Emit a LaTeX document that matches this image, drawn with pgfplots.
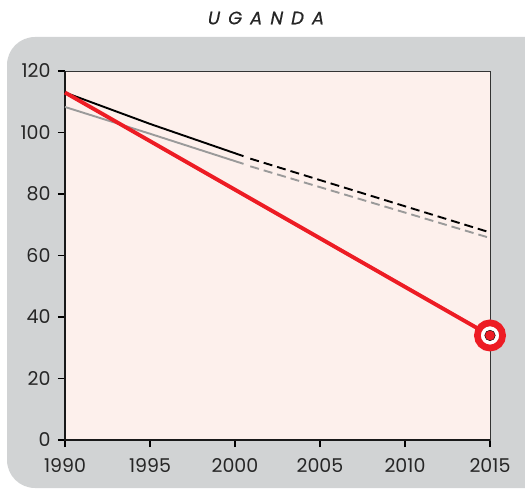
\documentclass[border=0pt]{standalone}
\usepackage{pgfplots}
\pgfplotsset{compat=1.18}
\usepackage{fontspec}
\setmainfont{Poppins}
\newfontfamily\titlefont[FakeBold=0.6, FakeSlant=0.2]{Poppins}
\definecolor{boxgray}{HTML}{D1D3D4}
\definecolor{plotbg}{HTML}{FDF0EC}
\definecolor{mdgred}{HTML}{ED1C24}
\definecolor{lgray}{HTML}{9A9A9A}
\begin{document}
\begin{tikzpicture}[x=1pt,y=1pt]
\useasboundingbox (0,0) rectangle (525,491);
\fill[boxgray, rounded corners=28pt] (7,3) rectangle (560,454);
\node[font=\fontsize{18}{20}\titlefont, text=black!85] at (265,473) {U\hspace{0.45em}G\hspace{0.45em}A\hspace{0.45em}N\hspace{0.45em}D\hspace{0.45em}A};
\begin{axis}[
  at={(65pt,51pt)}, anchor=origin,
  width=425pt, height=369pt, scale only axis,
  xmin=1990, xmax=2015, ymin=0, ymax=120,
  xtick={1990,1995,...,2015}, ytick={0,20,...,120},
  /pgf/number format/assume math mode=true,
  xticklabel style={/pgf/number format/1000 sep=, yshift=-8pt},
  yticklabel style={xshift=-4pt},
  tick label style={font=\fontsize{19}{21}\selectfont, text=black!85},
  axis background/.style={fill=plotbg},
  axis line style={draw=black!80, line width=0.8pt},
  tick align=outside, tick pos=left,
  major tick length=7pt,
  tick style={black, line width=1.2pt},
  clip=false,
]
\draw[black!90, line width=2pt] (axis cs:1990,120) -- (axis cs:1990,0) -- (axis cs:2015,0);
\addplot[black, line width=1.9pt] coordinates {(1990,113) (1995,102.8) (2000.5,92.3)};
\addplot[black, line width=1.9pt, dash pattern=on 9pt off 5pt] coordinates {(2000.9,91.5) (2015,67.5)};
\addplot[lgray, line width=1.9pt] coordinates {(1990,108.3) (1995,99.6) (2000.5,89.8)};
\addplot[lgray, line width=1.9pt, dash pattern=on 9pt off 5pt] coordinates {(2000.9,89) (2015,65.7)};
\addplot[mdgred, line width=3.9pt] coordinates {(1990,113) (2015,34)};
\addplot[only marks, mark=*, mark size=12.6pt, mark options={draw=mdgred, fill=white, line width=6.7pt}] coordinates {(2015,34)};
\addplot[only marks, mark=*, mark size=5.3pt, mark options={draw=none, fill=mdgred}] coordinates {(2015,34)};
\end{axis}
\end{tikzpicture}
\end{document}
